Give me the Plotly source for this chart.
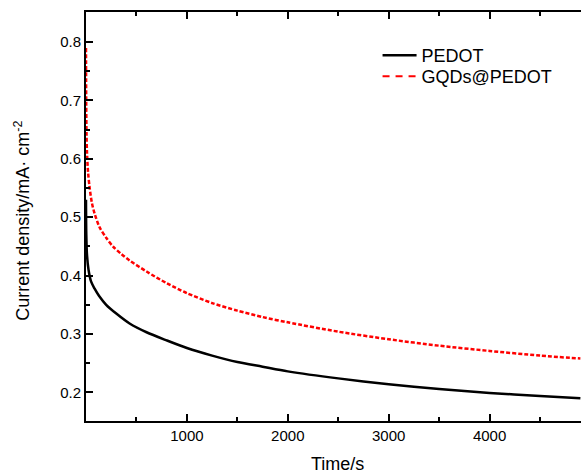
import plotly.graph_objects as go

# PEDOT (black, solid)
pedot_t = [0, 3, 10, 25, 50, 84, 130, 200, 300, 432, 600, 800, 1000, 1250, 1500, 1750, 2000, 2500, 3000, 3500, 4000, 4500, 4900]
pedot_j = [0.53, 0.47, 0.435, 0.41, 0.39, 0.378, 0.365, 0.350, 0.335, 0.318, 0.303, 0.289, 0.276, 0.263, 0.252, 0.244, 0.236, 0.224, 0.214, 0.206, 0.199, 0.194, 0.190]

# GQDs@PEDOT (red, dashed)
gqd_t = [0, 2, 5, 10, 20, 35, 58, 84, 134, 200, 266, 350, 432, 600, 800, 1000, 1250, 1500, 1750, 2000, 2500, 3000, 3500, 4000, 4500, 4900]
gqd_j = [0.79, 0.70, 0.645, 0.61, 0.578, 0.552, 0.525, 0.507, 0.483, 0.465, 0.450, 0.437, 0.426, 0.407, 0.387, 0.370, 0.353, 0.340, 0.329, 0.320, 0.304, 0.291, 0.280, 0.271, 0.263, 0.258]

x_ticks = [1000, 2000, 3000, 4000]
y_ticks = [0.2, 0.3, 0.4, 0.5, 0.6, 0.7, 0.8]

FONT = "Liberation Sans, Arial, sans-serif"

fig = go.Figure()
fig.add_trace(go.Scatter(x=pedot_t, y=pedot_j, mode="lines", name="PEDOT", legend="legend",
                         line=dict(color="black", width=2.5, shape="spline", smoothing=0.8)))
fig.add_trace(go.Scatter(x=gqd_t, y=gqd_j, mode="lines", name="GQDs@PEDOT", showlegend=False,
                         line=dict(color="#ff0000", width=2.5, dash="4px,2px", shape="spline", smoothing=0.8)))
fig.add_trace(go.Scatter(x=[None], y=[None], mode="lines", name="GQDs@PEDOT", legend="legend2",
                         line=dict(color="#ff0000", width=2, dash="7px,6px")))

legend_common = dict(xanchor="left", yanchor="top", bgcolor="rgba(0,0,0,0)",
                     font=dict(size=18, family=FONT), itemwidth=34)

fig.update_layout(
    width=581, height=471,
    margin=dict(l=86, r=0, t=12, b=50, autoexpand=False),
    paper_bgcolor="white", plot_bgcolor="white",
    font=dict(family=FONT, size=15, color="black"),
    showlegend=True,
    legend=dict(x=0.589, y=0.939, **legend_common),
    legend2=dict(x=0.589, y=0.8875, **legend_common),
    xaxis=dict(range=[0, 4906], tickvals=x_ticks, ticktext=[str(v) for v in x_ticks],
               ticks="inside", ticklen=7, tickwidth=1.5, tickcolor="black",
               showline=True, linecolor="black", linewidth=2, mirror="ticks",
               showgrid=False, zeroline=False, automargin=False,
               minor=dict(dtick=500, tick0=0, ticks="inside", ticklen=4, tickwidth=1.5, tickcolor="black"),
               tickfont=dict(size=15, family=FONT)),
    yaxis=dict(range=[0.151, 0.8515], tickvals=y_ticks, ticktext=["%.1f" % v for v in y_ticks],
               ticks="inside", ticklen=7, tickwidth=1.5, tickcolor="black",
               showline=True, linecolor="black", linewidth=2, mirror=False,
               showgrid=False, zeroline=False, automargin=False,
               minor=dict(dtick=0.05, tick0=0, ticks="inside", ticklen=4, tickwidth=1.5, tickcolor="black"),
               tickfont=dict(size=15, family=FONT)),
    annotations=[
        dict(text="Time/s", xref="paper", yref="paper", x=0.508, y=-0.106,
             xanchor="center", yanchor="middle", showarrow=False,
             font=dict(size=18, family=FONT, color="black")),
        dict(text="Current density/mA· cm<sup>-2</sup>", xref="paper", yref="paper",
             x=-0.129, y=0.49, xanchor="center", yanchor="middle", textangle=-90,
             showarrow=False, font=dict(size=18, family=FONT, color="black")),
    ],
)

fig.write_html("out.html", config={"displayModeBar": False},
               post_script="document.body.style.margin='0';document.body.style.overflow='hidden';")
